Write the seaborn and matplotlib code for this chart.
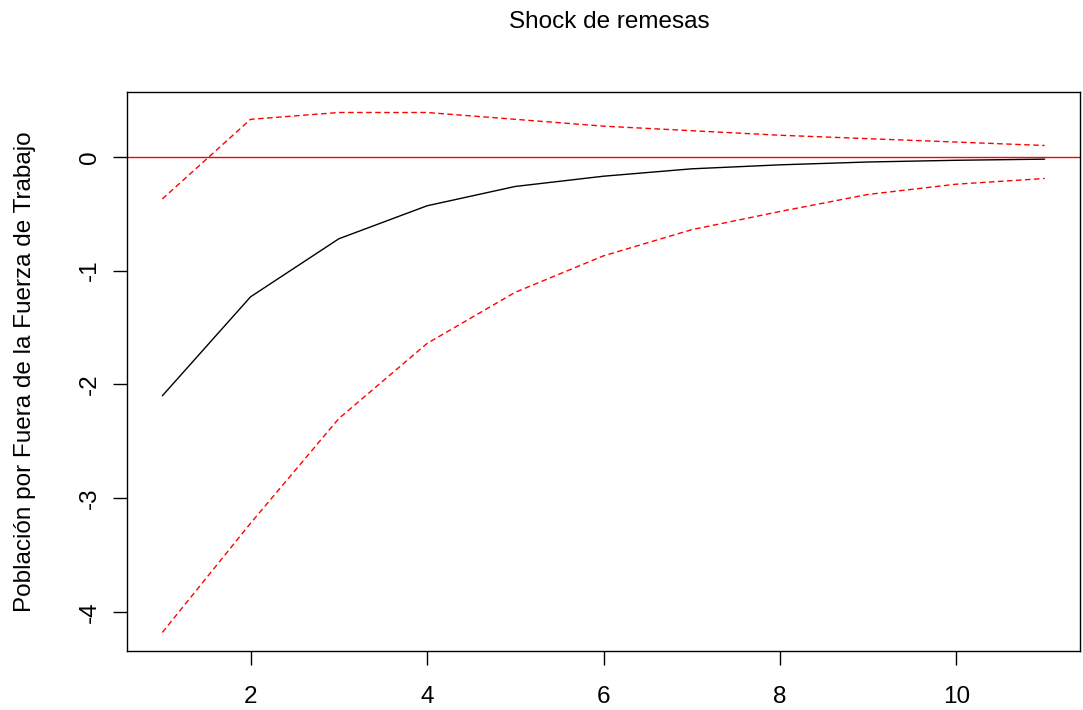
import numpy as np
import pandas as pd
import matplotlib
matplotlib.use("Agg")
import matplotlib.pyplot as plt
import seaborn as sns

# datos (impulso-respuesta)
periodo = [1, 2, 3, 4, 5, 6, 7, 8, 9, 10, 11]
irf = [-2.10, -1.23, -0.72, -0.43, -0.26, -0.17, -0.105, -0.07, -0.045, -0.03, -0.02]
upper = [-0.37, 0.33, 0.39, 0.39, 0.33, 0.27, 0.23, 0.19, 0.16, 0.13, 0.10]
lower = [-4.18, -3.22, -2.30, -1.64, -1.19, -0.87, -0.64, -0.48, -0.33, -0.24, -0.19]

df = pd.DataFrame({"periodo": periodo, "irf": irf, "upper": upper, "lower": lower})

sns.set_style("white")
plt.rcParams['font.family'] = ['Liberation Sans', 'DejaVu Sans']
plt.rcParams['text.color'] = 'black'
plt.rcParams['axes.labelcolor'] = 'black'
plt.rcParams['xtick.bottom'] = True
plt.rcParams['ytick.left'] = True
plt.rcParams['xtick.major.size'] = 10
plt.rcParams['ytick.major.size'] = 10
plt.rcParams['xtick.major.width'] = 1
plt.rcParams['ytick.major.width'] = 1
plt.rcParams['xtick.color'] = 'black'
plt.rcParams['ytick.color'] = 'black'
plt.rcParams['xtick.direction'] = 'out'
plt.rcParams['ytick.direction'] = 'out'

fig = plt.figure(figsize=(10.83, 7.10), dpi=100)
ax = fig.add_axes([0.1173, 0.0831, 0.8799, 0.7873])

sns.lineplot(x="periodo", y="irf", data=df, color="black", linewidth=1, ax=ax)
sns.lineplot(x="periodo", y="upper", data=df, color="red", linewidth=1, ax=ax)
sns.lineplot(x="periodo", y="lower", data=df, color="red", linewidth=1, ax=ax)
ax.lines[1].set_dashes([4, 2.5])
ax.lines[2].set_dashes([4, 2.5])
ax.axhline(0, color="red", linewidth=1)

ax.set_xlim(0.6, 11.4)
ax.set_ylim(-4.343, 0.57)
ax.set_xticks([2, 4, 6, 8, 10])
ax.set_yticks([0, -1, -2, -3, -4])
ax.set_yticklabels(["0", "-1", "-2", "-3", "-4"], rotation=90, va="center")
ax.tick_params(axis="both", labelsize=17.5)
ax.tick_params(axis="x", pad=15)
ax.tick_params(axis="y", pad=9)
for s in ax.spines.values():
    s.set_color("black")
    s.set_linewidth(1)

ax.set_xlabel("")
ax.set_ylabel("Población por Fuera de la Fuerza de Trabajo", fontsize=17.5, labelpad=31)
# titulo centrado sobre el area del grafico, como en R
fig.suptitle("Shock de remesas", fontsize=17.5, x=0.5628, y=0.985)

fig.savefig("out.png", dpi=100)
